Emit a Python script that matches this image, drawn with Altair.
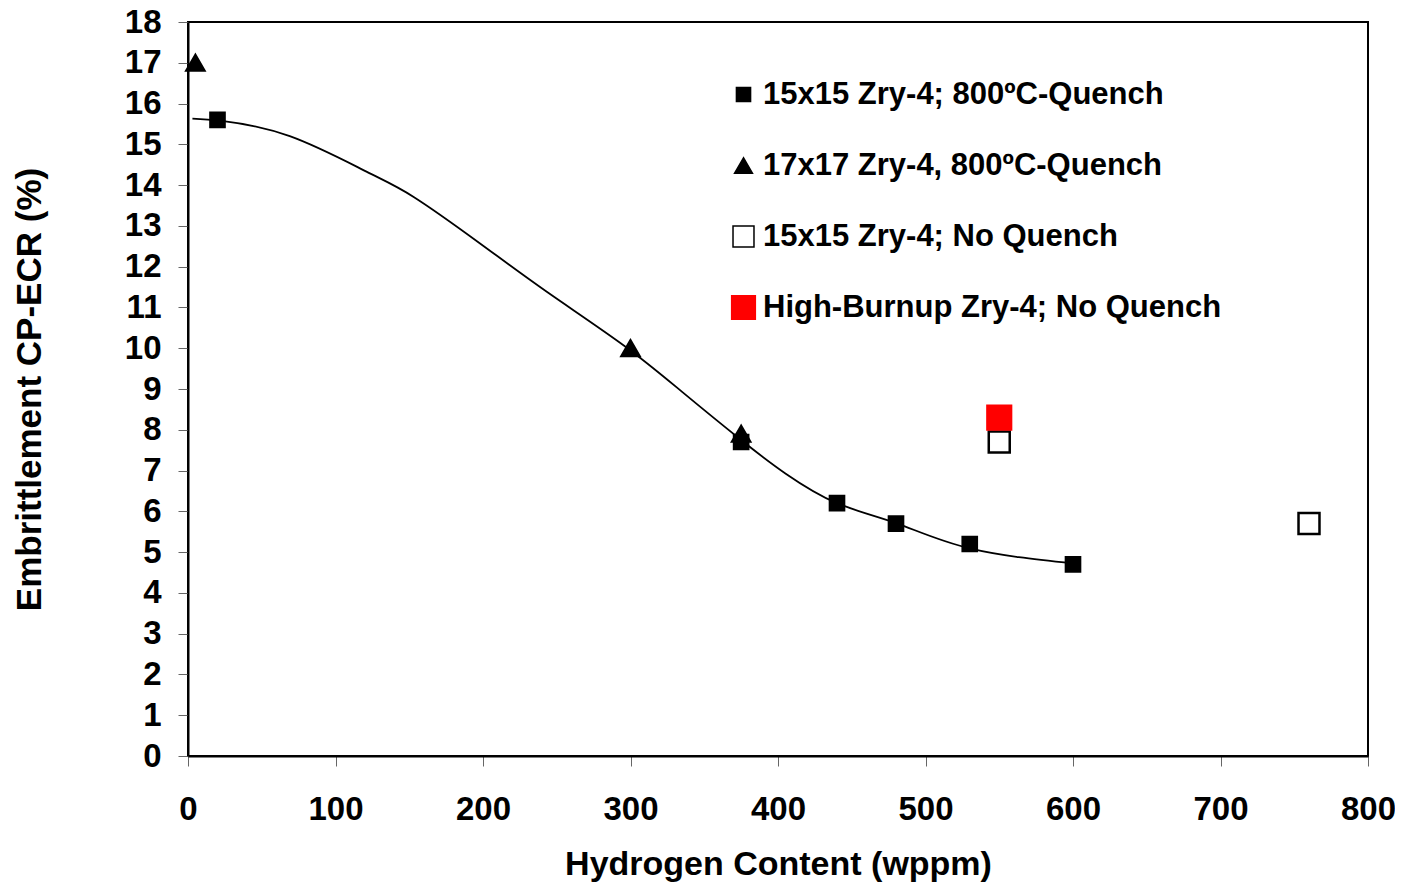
import altair as alt
import pandas as pd

# ---- data ----
sq_x = [20, 375, 440, 480, 530, 600]
sq_y = [15.6, 7.7, 6.2, 5.7, 5.2, 4.7]
tri_x = [5, 300, 375]
tri_y = [17.0, 10.0, 7.9]
open_x = [550, 760]
open_y = [7.7, 5.7]
red_x = [550]
red_y = [8.3]

curve_x = [3, 24, 69, 121, 153, 198, 243, 295, 335, 375, 405, 440, 480, 530, 600]
curve_y = [15.63, 15.57, 15.2, 14.33, 13.71, 12.57, 11.39, 10.08, 8.93, 7.75, 6.93, 6.2, 5.71, 5.09, 4.72]

series = [
    "15x15 Zry-4; 800ºC-Quench",
    "17x17 Zry-4, 800ºC-Quench",
    "15x15 Zry-4; No Quench",
    "High-Burnup Zry-4; No Quench",
]
shapes = ["square", "triangle-up", "square", "square"]
fills = ["black", "black", "white", "#ff0000"]
strokes = ["black", "black", "black", "#ff0000"]
sizes = [200, 560, 380, 400]

rows = []
for xs, ys, s in [(sq_x, sq_y, series[0]), (tri_x, tri_y, series[1]),
                  (open_x, open_y, series[2]), (red_x, red_y, series[3])]:
    for a, b in zip(xs, ys):
        rows.append({"h": a, "ecr": b, "series": s})
pts = pd.DataFrame(rows)
curve = pd.DataFrame({"h": curve_x, "ecr": curve_y})

FONT = "Liberation Sans"

xscale = alt.Scale(domain=[0, 800], nice=False, zero=False)
yscale = alt.Scale(domain=[0, 18], nice=False)

xaxis = alt.Axis(title="Hydrogen Content (wppm)", values=list(range(0, 801, 100)),
                 grid=False, labelFontSize=33, titleFontSize=34, labelFont=FONT, titleFont=FONT,
                 labelFontWeight="bold", titleFontWeight="bold", tickSize=10, labelPadding=27,
                 titlePadding=21, domainColor="black", domainWidth=2, tickColor="#666",
                 labelColor="black", titleColor="black", labelFlush=False)
yaxis = alt.Axis(title="Embrittlement CP-ECR (%)", values=list(range(0, 19)),
                 grid=False, labelFontSize=33, titleFontSize=35, labelFont=FONT, titleFont=FONT,
                 labelFontWeight="bold", titleFontWeight="bold", tickSize=10, labelPadding=17,
                 titlePadding=77, domainColor="black", domainWidth=2, tickColor="#666",
                 labelColor="black", titleColor="black", labelFlush=False)

line = alt.Chart(curve).mark_line(color="black", strokeWidth=1.8, interpolate="natural").encode(
    x=alt.X("h:Q", scale=xscale, axis=xaxis),
    y=alt.Y("ecr:Q", scale=yscale, axis=yaxis),
)

leg = alt.Legend(title=None, orient="none", legendX=540, legendY=57, labelFontSize=31,
                 labelFont=FONT, labelFontWeight="bold", labelColor="black", rowPadding=39,
                 labelOffset=4, labelLimit=700)

points = alt.Chart(pts).mark_point(filled=True, opacity=1, strokeWidth=2.5).encode(
    x=alt.X("h:Q", scale=xscale),
    y=alt.Y("ecr:Q", scale=yscale),
    shape=alt.Shape("series:N", scale=alt.Scale(domain=series, range=shapes), legend=leg),
    fill=alt.Fill("series:N", scale=alt.Scale(domain=series, range=fills), legend=leg),
    stroke=alt.Stroke("series:N", scale=alt.Scale(domain=series, range=strokes), legend=leg),
    size=alt.Size("series:N", scale=alt.Scale(domain=series, range=sizes), legend=leg),
)

chart = alt.layer(line, points).properties(
    width=1180, height=734,
    padding={"left": 180, "top": 14, "right": 27, "bottom": 126},
    autosize="none",
    background="white",
).configure_view(stroke="black", strokeWidth=2)

chart.save("out.html", embed_options={"renderer": "svg", "actions": False})
